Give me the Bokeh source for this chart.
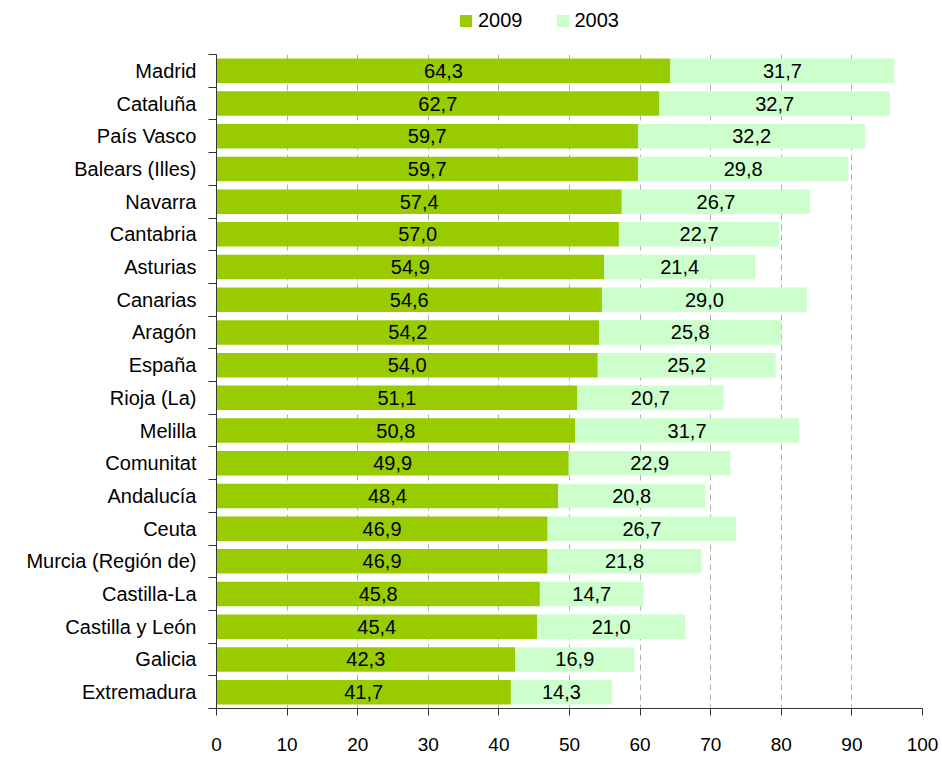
from bokeh.plotting import figure
from bokeh.layouts import column
from bokeh.models import Range1d, FixedTicker, Legend, LegendItem, ColumnDataSource
from bokeh.core.properties import value
from bokeh.embed import file_html
from bokeh.resources import INLINE

regions = ["Madrid", "Cataluña", "País Vasco", "Balears (Illes)", "Navarra", "Cantabria",
           "Asturias", "Canarias", "Aragón", "España", "Rioja (La)", "Melilla", "Comunitat",
           "Andalucía", "Ceuta", "Murcia (Región de)", "Castilla-La", "Castilla y León",
           "Galicia", "Extremadura"]
v2009 = [64.3, 62.7, 59.7, 59.7, 57.4, 57.0, 54.9, 54.6, 54.2, 54.0, 51.1, 50.8, 49.9,
         48.4, 46.9, 46.9, 45.8, 45.4, 42.3, 41.7]
v2003 = [31.7, 32.7, 32.2, 29.8, 26.7, 22.7, 21.4, 29.0, 25.8, 25.2, 20.7, 31.7, 22.9,
         20.8, 26.7, 21.8, 14.7, 21.0, 16.9, 14.3]
series = ["2009", "2003"]
x_ticks = [0, 10, 20, 30, 40, 50, 60, 70, 80, 90, 100]

FONT = "Liberation Sans"
C2009 = "#99CC00"
C2003 = "#CCFFCC"
AX = "#333333"

def fmt(v):
    return f"{v:.1f}".replace(".", ",")

idx = list(range(len(regions)))
src = ColumnDataSource(dict(
    y=idx,
    a=v2009,
    b=[a + b for a, b in zip(v2009, v2003)],
    zero=[0] * len(idx),
    mid_a=[a / 2 for a in v2009],
    mid_b=[a + b / 2 for a, b in zip(v2009, v2003)],
    lab_a=[fmt(v) for v in v2009],
    lab_b=[fmt(v) for v in v2003],
))

# ---- legend strip ----
lg = figure(width=940, height=46, output_backend="svg", toolbar_location=None,
            x_range=Range1d(0, 1), y_range=Range1d(0, 1),
            min_border_left=0, min_border_right=0, min_border_top=0, min_border_bottom=0)
lg.axis.visible = False
lg.grid.grid_line_color = None
lg.outline_line_color = None
# proxy glyphs for the legend keys (placed far outside the visible range)
proxy = ColumnDataSource(dict(y=[50], l=[50], r=[50]))
d1 = lg.hbar(y="y", left="l", right="r", height=0.1, source=proxy, fill_color=C2009, line_color=None)
d2 = lg.hbar(y="y", left="l", right="r", height=0.1, source=proxy, fill_color=C2003, line_color=None)
legend = Legend(items=[LegendItem(label=series[0], renderers=[d1], index=0),
                       LegendItem(label=series[1], renderers=[d2], index=0)],
                orientation="horizontal", location=(242, 14),
                glyph_width=15, glyph_height=15, label_text_font=FONT,
                label_text_font_size="20px", label_text_color="black",
                label_standoff=5, spacing=32,
                padding=0, margin=0, border_line_color=None, background_fill_alpha=0,
                label_height=24)
lg.add_layout(legend)

# ---- main chart ----
p = figure(width=940, height=710, output_backend="svg", toolbar_location=None,
           x_range=Range1d(0, 100), y_range=Range1d(len(idx) - 0.5, -0.5),
           min_border_left=216, min_border_right=18, min_border_top=8, min_border_bottom=48)
p.outline_line_color = None
p.background_fill_color = "white"

p.hbar(y="y", left="zero", right="a", height=0.75, source=src,
       fill_color=C2009, line_color=None)
p.hbar(y="y", left="a", right="b", height=0.75, source=src,
       fill_color=C2003, line_color=None)

p.text(x="mid_a", y="y", text="lab_a", source=src, text_align="center",
       text_baseline="middle", text_font=value(FONT), text_font_size="20px", text_color="black")
p.text(x="mid_b", y="y", text="lab_b", source=src, text_align="center",
       text_baseline="middle", text_font=value(FONT), text_font_size="20px", text_color="black")

# x axis
p.xaxis.ticker = FixedTicker(ticks=x_ticks)
p.xaxis.axis_line_color = AX
p.xaxis.major_tick_line_color = AX
p.xaxis.major_tick_out = 7
p.xaxis.major_tick_in = 0
p.xaxis.minor_tick_line_color = None
p.xaxis.major_label_text_font = FONT
p.xaxis.major_label_text_font_size = "19px"
p.xaxis.major_label_text_color = "black"
p.xaxis.major_label_standoff = 22

# y axis
p.yaxis.ticker = FixedTicker(ticks=idx, minor_ticks=[i - 0.5 for i in range(len(idx) + 1)])
p.yaxis.major_label_overrides = {i: n for i, n in zip(idx, regions)}
p.yaxis.axis_line_color = AX
p.yaxis.major_tick_line_color = None
p.yaxis.major_tick_out = 0
p.yaxis.major_tick_in = 0
p.yaxis.minor_tick_line_color = AX
p.yaxis.minor_tick_out = 8
p.yaxis.minor_tick_in = 0
p.yaxis.major_label_text_font = FONT
p.yaxis.major_label_text_font_size = "20px"
p.yaxis.major_label_text_color = "black"
p.yaxis.major_label_standoff = 12

p.xgrid.grid_line_color = "#b0b0b0"
p.xgrid.grid_line_dash = "6 4"
p.ygrid.grid_line_color = None

layout = column(lg, p, spacing=0)
open("out.html", "w").write(file_html(layout, INLINE))
